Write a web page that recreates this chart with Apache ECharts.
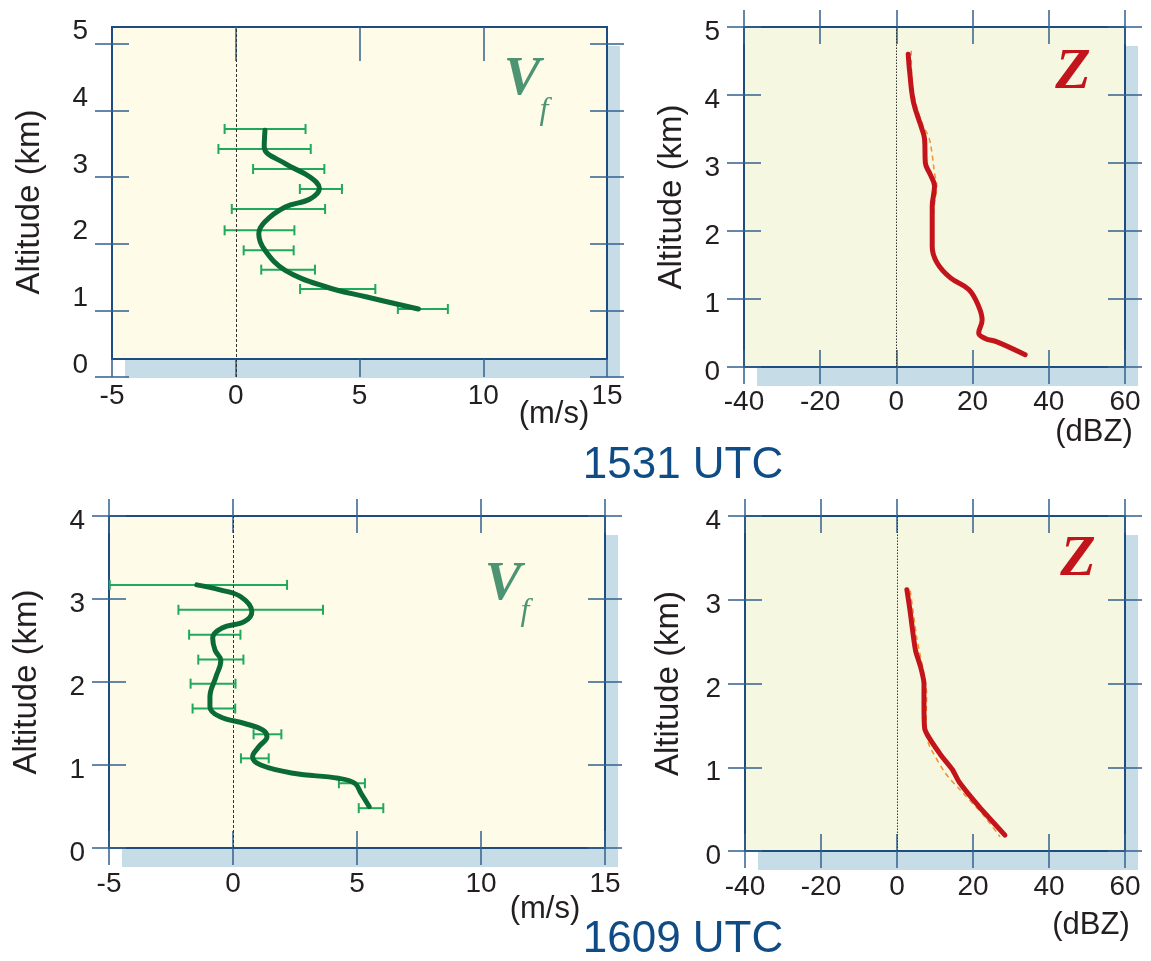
<!DOCTYPE html>
<html>
<head>
<meta charset="utf-8">
<script src="https://cdn.jsdelivr.net/npm/echarts@6/dist/echarts.min.js"></script>
<style>
  html, body { margin: 0; padding: 0; background: #ffffff; }
  #chart { width: 1151px; height: 961px; }
</style>
</head>
<body>
<div id="chart"></div>
<script>
// ---- 1531 UTC: fall speed profile (m/s) vs altitude (km)
const vfAlt1531 = [3.70, 3.45, 3.20, 3.00, 2.83, 2.67, 2.55, 2.33, 2.15, 1.90, 1.60, 1.35, 1.20, 1.02];
const vfVal1531 = [1.18, 1.15, 2.00, 3.00, 3.38, 3.00, 2.00, 1.18, 0.93, 1.18, 2.00, 3.66, 5.30, 7.38];
const ebAlt1531 = [3.72, 3.42, 3.12, 2.82, 2.52, 2.20, 1.90, 1.61, 1.32, 1.02];
const ebLo1531  = [-0.45, -0.70, 0.70, 2.59, -0.16, -0.45, 0.32, 1.03, 2.60, 6.55];
const ebHi1531  = [2.82, 3.03, 3.58, 4.29, 3.61, 2.37, 2.34, 3.20, 5.64, 8.57];

// ---- 1531 UTC: reflectivity profile (dBZ) vs altitude (km)
const zAlt1531  = [4.60, 4.33, 3.89, 3.50, 3.35, 3.00, 2.83, 2.66, 2.36, 1.77, 1.53, 1.31, 1.14, 0.89, 0.69, 0.50, 0.42, 0.37, 0.18];
const zVal1531  = [3.1, 3.5, 4.5, 6.7, 7.4, 7.6, 8.9, 10.0, 9.4, 9.4, 10.7, 14.2, 19.0, 21.6, 22.5, 21.6, 23.3, 26.4, 33.8];
const zfAlt1531 = [4.65, 4.30, 3.90, 3.55, 3.38, 3.12, 2.85, 2.66, 2.40, 2.10, 1.77, 1.53, 1.31, 1.14, 0.89, 0.69, 0.50, 0.42, 0.37, 0.18];
const zfVal1531 = [3.9, 4.0, 5.0, 7.0, 8.5, 9.4, 10.0, 10.6, 10.0, 9.6, 9.5, 10.7, 14.2, 19.0, 21.6, 22.5, 21.6, 23.3, 26.4, 33.5];

// ---- 1609 UTC: fall speed profile
const vfAlt1609 = [3.17, 3.11, 3.03, 2.85, 2.73, 2.65, 2.53, 2.38, 2.26, 2.06, 1.82, 1.70, 1.58, 1.50, 1.42, 1.34, 1.22, 1.10, 1.00, 0.90, 0.84, 0.78, 0.66, 0.50];
const vfVal1609 = [-1.46, -0.52, 0.30, 0.76, 0.47, -0.44, -0.82, -0.72, -0.49, -0.69, -0.93, -0.93, -0.52, 0.47, 1.21, 1.37, 1.04, 0.79, 1.12, 2.44, 4.25, 4.91, 5.16, 5.49];
const ebAlt1609 = [3.17, 2.87, 2.57, 2.27, 1.98, 1.68, 1.37, 1.08, 0.78, 0.48];
const ebLo1609  = [-4.97, -2.20, -1.77, -1.40, -1.71, -1.63, 0.83, 0.32, 4.27, 5.07];
const ebHi1609  = [2.18, 3.63, 0.30, 0.42, 0.10, 0.09, 1.95, 1.44, 5.32, 6.06];

// ---- 1609 UTC: reflectivity profile
const zAlt1609  = [3.12, 2.88, 2.60, 2.39, 2.20, 2.00, 1.76, 1.46, 1.16, 0.97, 0.82, 0.53, 0.19];
const zVal1609  = [2.6, 3.4, 4.2, 4.9, 6.2, 7.1, 7.1, 7.3, 11.3, 14.6, 16.4, 21.6, 28.4];
const zfAlt1609 = [3.11, 2.55, 2.04, 1.88, 1.40, 1.24, 0.93, 0.73, 0.43, 0.17];
const zfVal1609 = [3.5, 5.2, 7.4, 7.8, 7.6, 8.7, 12.7, 16.6, 22.7, 27.1];

// ---- tick values
const vfTicks = [-5, 0, 5, 10, 15];
const zTicks = [-40, -20, 0, 20, 40, 60];
const altTicks5 = [0, 1, 2, 3, 4, 5];
const altTicks4 = [0, 1, 2, 3, 4];

const FONT = '"Liberation Sans", Arial, Helvetica, sans-serif';
const SERIF = '"Liberation Serif", "Times New Roman", serif';
const TXT = '#231f20';
const FRAME = '#1d4d80';
const TICK = '#33628f';
const SHADOW = '#c6dde7';
const CREAM = '#fefbe9';
const CREAM_G = '#f5f7e1';
const EB = '#1fa95a';
const VF_LINE = '#0a6b37';
const Z_LINE = '#c4141b';
const Z_FIT = '#f2922c';
const SHADOW_DX = 13;
const SHADOW_DY = 19;

const pairs = (xs, ys) => xs.map((x, i) => [x, ys[i]]);

const labelStyle = { color: TXT, fontFamily: FONT, fontSize: 28 };

const grids = [];
const xAxes = [];
const yAxes = [];

function addGrid(g) {
  grids.push(g);
  return grids.length - 1;
}

function hiddenAxes(grid) {
  xAxes.push({ gridIndex: grid, type: 'value', min: 0, max: 1, show: false });
  yAxes.push({ gridIndex: grid, type: 'value', min: 0, max: 1, show: false });
}

// framed panel box with a flat offset shadow behind it
function box(left, top, width, height, fill) {
  const s = addGrid({ left: left + SHADOW_DX, top: top + SHADOW_DY, width, height, show: true, z: -1,
                      backgroundColor: SHADOW, borderWidth: 0 });
  hiddenAxes(s);
  return addGrid({ left, top, width, height, show: true,
                   backgroundColor: fill, borderColor: FRAME, borderWidth: 2 });
}

function xAx(grid, min, max, interval, ticks, pos, inside, len, label) {
  xAxes.push({
    gridIndex: grid, type: 'value', min, max, interval, position: pos,
    axisLine: { show: false, onZero: false },
    splitLine: { show: false },
    axisTick: { show: len > 0, inside, length: len, customValues: ticks,
                lineStyle: { color: TICK, width: 1.5 } },
    axisLabel: label ? Object.assign({ show: true, customValues: ticks }, labelStyle, label)
                     : { show: false }
  });
  return xAxes.length - 1;
}

function yAx(grid, min, max, ticks, pos, inside, len, label, name) {
  const ax = {
    gridIndex: grid, type: 'value', min, max, interval: 1, position: pos,
    axisLine: { show: false, onZero: false },
    splitLine: { show: false },
    axisTick: { show: len > 0, inside, length: len, customValues: ticks,
                lineStyle: { color: TICK, width: 1.5 } },
    axisLabel: label ? Object.assign({ show: true, customValues: ticks }, labelStyle, label)
                     : { show: false }
  };
  if (name) {
    Object.assign(ax, {
      name: 'Altitude (km)', nameLocation: 'middle', nameRotate: 90, nameGap: name,
      nameTextStyle: { color: TXT, fontFamily: FONT, fontSize: 33 }
    });
  }
  yAxes.push(ax);
  return yAxes.length - 1;
}

// y labels sit a little below their ticks
const yLabelLow = { margin: 24, verticalAlign: 'top', lineHeight: 11 };

// panel with ticks on both sides of every frame edge
function fullAxes(grid, xr, xt, yr, yt, xLabelMargin, nameGap) {
  const xi = xAx(grid, xr[0], xr[1], xr[2], xt, 'bottom', false, 17, { margin: xLabelMargin });
  xAx(grid, xr[0], xr[1], xr[2], xt, 'bottom', true, 17);
  xAx(grid, xr[0], xr[1], xr[2], xt, 'top', false, 17);
  xAx(grid, xr[0], xr[1], xr[2], xt, 'top', true, 17);
  const yi = yAx(grid, yr[0], yr[1], yt, 'left', false, 17, yLabelLow, nameGap);
  yAx(grid, yr[0], yr[1], yt, 'left', true, 17);
  yAx(grid, yr[0], yr[1], yt, 'right', false, 17);
  yAx(grid, yr[0], yr[1], yt, 'right', true, 17);
  return [xi, yi];
}

// 1531 Vf: frame sits slightly above the 0-5 km tick frame
const tlBox = box(112, 27, 495, 332, CREAM);
hiddenAxes(tlBox);
const tlGrid = addGrid({ left: 112, top: 27, width: 495, height: 350, show: false });
const tlX = xAx(tlGrid, -5, 15, 5, vfTicks, 'bottom', true, 18, { margin: 5 });
xAx(tlGrid, -5, 15, 5, vfTicks.slice(1, 4), 'top', true, 34);
const tlY = yAx(tlGrid, 0, 5.25, altTicks5, 'left', false, 17,
                { margin: 24, verticalAlign: 'bottom', lineHeight: 24 }, 66);
yAx(tlGrid, 0, 5.25, altTicks5, 'left', true, 17);
yAx(tlGrid, 0, 5.25, altTicks5, 'right', false, 17);
yAx(tlGrid, 0, 5.25, altTicks5, 'right', true, 17);

// 1531 Z
const trGrid = box(744, 27, 381, 340, CREAM_G);
const [trX, trY] = fullAxes(trGrid, [-40, 60, 20], zTicks, [0, 5], altTicks5, 21, 56);
// 1609 Vf
const blGrid = box(109, 516, 496, 332, CREAM);
const [blX, blY] = fullAxes(blGrid, [-5, 15, 5], vfTicks, [0, 4], altTicks4, 22, 66);
// 1609 Z
const brGrid = box(745, 516, 380, 335, CREAM_G);
const [brX, brY] = fullAxes(brGrid, [-40, 60, 20], zTicks, [0, 4], altTicks4, 22, 60);

function zeroLine(dash) {
  return {
    silent: true, symbol: ['none', 'none'], animation: false,
    label: { show: false },
    lineStyle: { color: '#333333', width: 1, type: dash },
    data: [{ xAxis: 0 }]
  };
}

function errorBars(xi, yi, alts, lows, highs) {
  return {
    type: 'custom', xAxisIndex: xi, yAxisIndex: yi, z: 3,
    data: alts.map((a, i) => [a, lows[i], highs[i]]),
    encode: { x: [1, 2], y: 0 },
    renderItem(params, api) {
      const a = api.value(0);
      const p1 = api.coord([api.value(1), a]);
      const p2 = api.coord([api.value(2), a]);
      const h = 5;
      const st = { stroke: EB, lineWidth: 2 };
      return {
        type: 'group',
        children: [
          { type: 'line', shape: { x1: p1[0], y1: p1[1], x2: p2[0], y2: p2[1] }, style: st },
          { type: 'line', shape: { x1: p1[0], y1: p1[1] - h, x2: p1[0], y2: p1[1] + h }, style: st },
          { type: 'line', shape: { x1: p2[0], y1: p2[1] - h, x2: p2[0], y2: p2[1] + h }, style: st }
        ]
      };
    }
  };
}

function curve(xi, yi, data, color, width, smooth, extra) {
  return Object.assign({
    type: 'line', xAxisIndex: xi, yAxisIndex: yi, data, smooth,
    symbol: 'none', z: 4,
    lineStyle: { color, width, cap: 'round', join: 'round' }
  }, extra || {});
}

const series = [
  errorBars(tlX, tlY, ebAlt1531, ebLo1531, ebHi1531),
  curve(tlX, tlY, pairs(vfVal1531, vfAlt1531), VF_LINE, 5, 0.4, { markLine: zeroLine([3, 2]) }),
  curve(trX, trY, pairs(zfVal1531, zfAlt1531), Z_FIT, 1.5, 0.4,
        { z: 3, lineStyle: { color: Z_FIT, width: 1.5, type: [5, 4] }, markLine: zeroLine([1.5, 1.5]) }),
  curve(trX, trY, pairs(zVal1531, zAlt1531), Z_LINE, 5, 0.4),
  errorBars(blX, blY, ebAlt1609, ebLo1609, ebHi1609),
  curve(blX, blY, pairs(vfVal1609, vfAlt1609), VF_LINE, 5, 0.4, { markLine: zeroLine([3, 2]) }),
  curve(brX, brY, pairs(zfVal1609, zfAlt1609), Z_FIT, 1.5, 0.2,
        { z: 3, lineStyle: { color: Z_FIT, width: 1.5, type: [5, 4] }, markLine: zeroLine([1.5, 1.5]) }),
  curve(brX, brY, pairs(zVal1609, zAlt1609), Z_LINE, 5, 0.2)
];

function txt(text, x, y, font, fill) {
  return { type: 'text', x, y, z: 10, silent: true,
           style: { text, font, fill, align: 'center', verticalAlign: 'middle' } };
}

const graphics = [
  txt('1531 UTC', 683, 466, '44px ' + FONT, '#0f4c86'),
  txt('1609 UTC', 683, 940, '44px ' + FONT, '#0f4c86'),
  txt('(m/s)', 554, 414, '31px ' + FONT, TXT),
  txt('(m/s)', 545, 909, '31px ' + FONT, TXT),
  txt('(dBZ)', 1094, 432, '31px ' + FONT, TXT),
  txt('(dBZ)', 1091, 925, '31px ' + FONT, TXT),
  txt('V', 522, 80, 'italic bold 55px ' + SERIF, '#4d9572'),
  txt('f', 544, 111, 'italic 32px ' + SERIF, '#4d9572'),
  txt('V', 503, 585, 'italic bold 55px ' + SERIF, '#4d9572'),
  txt('f', 525, 612, 'italic 32px ' + SERIF, '#4d9572'),
  txt('Z', 1073, 73, 'italic bold 58px ' + SERIF, Z_LINE),
  txt('Z', 1078, 560, 'italic bold 58px ' + SERIF, Z_LINE)
];

const chart = echarts.init(document.getElementById('chart'), null, { renderer: 'canvas' });
chart.setOption({
  animation: false,
  backgroundColor: '#ffffff',
  grid: grids,
  xAxis: xAxes,
  yAxis: yAxes,
  series,
  graphic: { elements: graphics }
});
</script>
</body>
</html>
